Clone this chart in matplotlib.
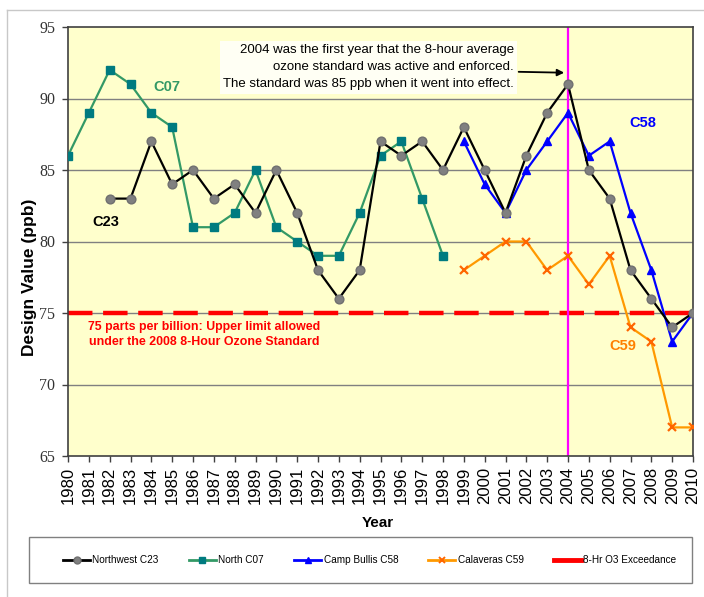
import matplotlib
matplotlib.use("Agg")
import matplotlib.pyplot as plt
from matplotlib.lines import Line2D
from matplotlib.patches import Rectangle
from matplotlib.legend_handler import HandlerLine2D

years_c23 = list(range(1982, 2011))
c23 = [83, 83, 87, 84, 85, 83, 84, 82, 85, 82, 78, 76, 78, 87, 86, 87, 85, 88,
       85, 82, 86, 89, 91, 85, 83, 78, 76, 74, 75]
years_c07 = list(range(1980, 1999))
c07 = [86, 89, 92, 91, 89, 88, 81, 81, 82, 85, 81, 80, 79, 79, 82, 86, 87, 83, 79]
years_c58 = list(range(1999, 2011))
c58 = [87, 84, 82, 85, 87, 89, 86, 87, 82, 78, 73, 75]
years_c59 = list(range(1999, 2011))
c59 = [78, 79, 80, 80, 78, 79, 77, 79, 74, 73, 67, 67]
exceedance = 75
year_enforced = 2004
year_ticks = list(range(1980, 2011))
y_ticks = [65, 70, 75, 80, 85, 90, 95]
legend_labels = ["Northwest C23", "North C07", "Camp Bullis C58",
                 "Calaveras C59", "8-Hr O3 Exceedance"]

W, H = 704, 597
fig = plt.figure(figsize=(W / 100, H / 100), dpi=100)
fig.patch.set_facecolor("white")

def fx(px):
    return px / W

def fy(py):
    return 1 - py / H

# outer chart frame (top and left visible)
fig.add_artist(Line2D([fx(7), 1.0], [fy(10), fy(10)], color="#c8c8c8", lw=1))
fig.add_artist(Line2D([fx(7), fx(7)], [fy(10), 0.0], color="#c8c8c8", lw=1))

ax = fig.add_axes([fx(68), fy(456), fx(693) - fx(68), fy(27) - fy(456)])
ax.set_facecolor("#ffffcc")
ax.set_xlim(1980, 2010)
ax.set_ylim(65, 95)

for v in y_ticks[1:-1]:
    ax.axhline(v, color="#808080", lw=1, zorder=1)

ax.axhline(exceedance, color="#ff0000", lw=3.2, zorder=2, dashes=(5.5, 2.4))
ax.axvline(year_enforced, color="#ff00ff", lw=1.6, zorder=2)

ax.plot(years_c07, c07, color="#339966", lw=1.6, marker="s", markersize=6,
        markerfacecolor="#007b80", markeredgecolor="#007b80", zorder=3)
ax.plot(years_c59, c59, color="#ff9900", lw=1.6, marker="x", markersize=5.5,
        markeredgecolor="#ff6600", markeredgewidth=1.6, zorder=3)
ax.plot(years_c58, c58, color="#0000ff", lw=1.6, marker="^", markersize=6,
        markerfacecolor="#0000ff", markeredgecolor="#0000ff", zorder=4)
ax.plot(years_c23, c23, color="#000000", lw=1.6, marker="o", markersize=6.3,
        markerfacecolor="#808080", markeredgecolor="#707070", zorder=5)

for s in ax.spines.values():
    s.set_color("#404040")
    s.set_linewidth(1.2)

ax.set_xticks(year_ticks)
ax.set_xticklabels([str(y) for y in year_ticks], rotation=90,
                   fontsize=12, family="Liberation Sans")
ax.set_yticks(y_ticks)
ax.set_yticklabels([str(v) for v in y_ticks], fontsize=11.5,
                   family="Liberation Serif", color="#333333")
ax.tick_params(axis="both", direction="out", length=4, width=1, color="#404040")
ax.tick_params(axis="x", pad=4)
ax.tick_params(axis="y", pad=5)

fig.text(fx(378), fy(523), "Year", ha="center", va="center",
         fontsize=11, fontweight="bold", family="Liberation Sans")
fig.text(fx(30), fy(277), "Design Value (ppb)", ha="center", va="center",
         rotation=90, fontsize=12.5, fontweight="bold", family="Liberation Sans")

# annotation box
ax.text(2001.4, 92.18,
        "2004 was the first year that the 8-hour average\n"
        "ozone standard was active and enforced.\n"
        "The standard was 85 ppb when it went into effect.",
        ha="right", va="center", fontsize=9.5, family="Liberation Sans",
        linespacing=1.55, zorder=6,
        bbox=dict(boxstyle="square,pad=0.25", facecolor="#fffff4",
                  edgecolor="none"))
ax.annotate("", xy=(2003.95, 91.8), xytext=(2001.5, 91.87),
            arrowprops=dict(arrowstyle="-|>", color="black", lw=1.3,
                            mutation_scale=10), zorder=6)

ax.text(1984.75, 90.8, "C07", color="#339966", fontsize=10.5,
        fontweight="bold", ha="center", va="center", family="Liberation Sans")
ax.text(1981.8, 81.36, "C23", color="black", fontsize=10.5,
        fontweight="bold", ha="center", va="center", family="Liberation Sans")
ax.text(2007.6, 88.3, "C58", color="#0000ff", fontsize=10.5,
        fontweight="bold", ha="center", va="center", family="Liberation Sans")
ax.text(2006.64, 72.7, "C59", color="#ff8000", fontsize=10.5,
        fontweight="bold", ha="center", va="center", family="Liberation Sans")
ax.text(1986.55, 73.5,
        "75 parts per billion: Upper limit allowed\n"
        "under the 2008 8-Hour Ozone Standard",
        color="#ff0000", fontsize=8.9, fontweight="bold", ha="center",
        va="center", family="Liberation Sans", linespacing=1.3)


class ShortLineHandler(HandlerLine2D):
    def create_artists(self, legend, orig_handle, xdescent, ydescent,
                       width, height, fontsize, trans):
        artists = super().create_artists(legend, orig_handle, xdescent,
                                         ydescent, width, height, fontsize,
                                         trans)
        for a in artists:
            xd = a.get_xdata()
            if len(xd) == 2:
                a.set_xdata([xd[0], xd[0] + 0.8 * (xd[1] - xd[0])])
        return artists


# legend box
fig.add_artist(Rectangle((fx(29), fy(583)), fx(692) - fx(29),
                         fy(537) - fy(583), fill=False,
                         edgecolor="#808080", lw=1))
handles = [
    Line2D([], [], color="black", lw=2, marker="o", markersize=5,
           markerfacecolor="#808080", markeredgecolor="#707070"),
    Line2D([], [], color="#339966", lw=2, marker="s", markersize=5,
           markerfacecolor="#007b80", markeredgecolor="#007b80"),
    Line2D([], [], color="#0000ff", lw=2, marker="^", markersize=5,
           markerfacecolor="#0000ff"),
    Line2D([], [], color="#ff9900", lw=2, marker="x", markersize=5,
           markeredgecolor="#ff6600", markeredgewidth=1.4),
    Line2D([], [], color="#ff0000", lw=3.5),
]
fig.legend(handles, legend_labels, loc="center left",
           bbox_to_anchor=(fx(58), fy(560)), ncol=5, frameon=False,
           prop={"family": "Liberation Sans", "size": 7.2},
           handlelength=2.7, handletextpad=0.25, columnspacing=3.0,
           borderpad=0, handler_map={handles[4]: ShortLineHandler()})

fig.savefig("out.png", dpi=100, facecolor="white")
